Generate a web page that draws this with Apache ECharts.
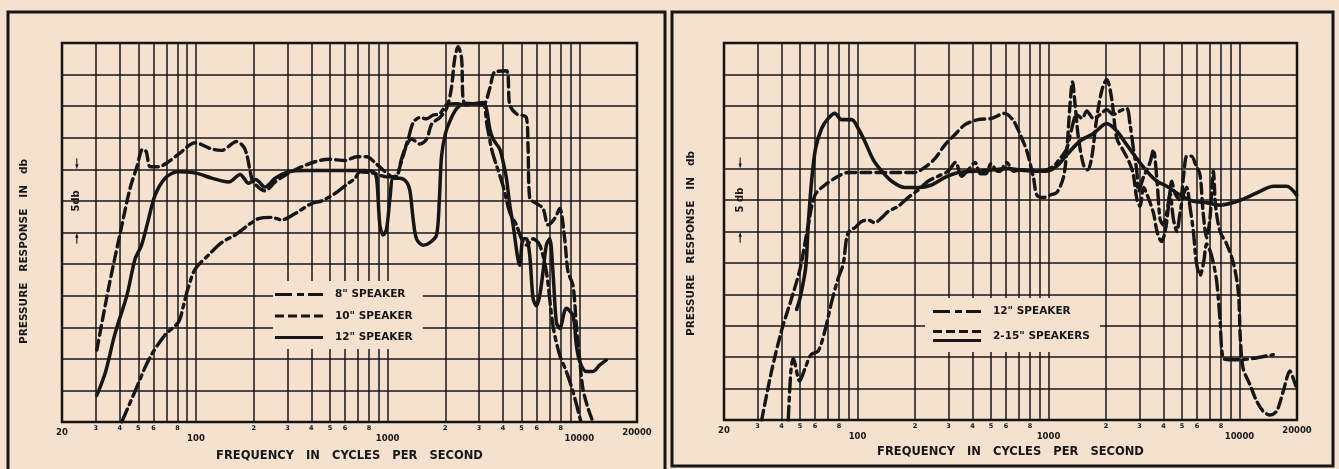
<!DOCTYPE html>
<html>
<head>
<meta charset="utf-8">
<script src="https://cdn.jsdelivr.net/npm/echarts@6/dist/echarts.min.js"></script>
<style>
html, body { margin: 0; padding: 0; background: #f5e1ce; }
#chart { width: 1339px; height: 469px; }
</style>
</head>
<body>
<div id="chart"></div>
<script>
// x axis: frequency (Hz), drawn on log10 scale
var gridFreqs = [20, 30, 40, 50, 60, 70, 80, 90, 100, 200, 300, 400, 500, 600, 700, 800, 900,
    1000, 2000, 3000, 4000, 5000, 6000, 7000, 8000, 9000, 10000, 20000];
var labelFreqs = [20, 30, 40, 50, 60, 80, 100, 200, 300, 400, 500, 600, 800,
    1000, 2000, 3000, 4000, 5000, 6000, 8000, 10000, 20000];

// left chart  [Hz, db]
var speaker8 = [[41,0],[48,2.4],[57,5.0],[69,6.9],[81,7.9],[86,9.2],[91,10.6],[99,12.1],[116,13.2],[136,14.2],
    [160,14.8],[188,15.6],[212,16.1],[248,16.2],[280,16.0],[329,16.5],[402,17.3],[453,17.5],[532,18.1],[600,18.7],
    [676,19.3],[717,19.8],[842,19.7],[988,19.4],[1113,19.5],[1180,20.8],[1280,22.4],[1360,23.7],[1473,24.1],[1596,24.0],
    [1729,24.3],[1872,24.4],[2028,25.1],[2287,25.2],[2578,25.1],[2907,25.2],[3149,25.2],[3300,23.5],[3500,21.5],[3700,20.3],
    [4000,18.7],[4336,16.6],[4697,15.6],[4990,14.5],[5296,14.0],[5737,14.5],[6215,14.0],[6732,11.9],[7293,7.6],[7900,5.3],
    [8558,4.0],[9270,2.4],[10200,0]];

var speaker10 = [[30.4,5.7],[35,10.6],[41.1,15.6],[45.3,18.5],[49.2,20.2],[52.7,21.6],[55,21.4],[57.7,20.2],[63.8,20.2],
    [71.9,20.6],[81.1,21.2],[99.1,22.1],[121,21.6],[136,21.5],[163,22.2],[177,21.8],[184,21.2],[192,19.8],[199,19.0],
    [229,18.3],[259,19.0],[304,19.7],[356,20.2],[418,20.6],[491,20.8],[600,20.7],[689,21.0],[777,21.0],[876,20.4],
    [1028,19.5],[1090,19.3],[1180,20.6],[1255,21.9],[1333,22.4],[1473,22.0],[1596,22.4],[1700,23.6],[1872,24.1],
    [2028,24.8],[2150,26.4],[2240,28.8],[2333,29.7],[2430,28.8],[2500,25.3],[2793,25.2],[3149,25.1],[3411,26.4],
    [3620,27.7],[4166,27.8],[4336,25.1],[4697,24.4],[5296,24.1],[5400,21.9],[5512,17.7],[5971,17.3],[6469,16.9],
    [6870,15.6],[7440,16.1],[7900,16.9],[8390,14.5],[8730,11.9],[9270,10.8],[9649,7.7],[10042,5.0],[10452,2.6],
    [11100,1.1],[11785,0]];

var speaker12 = [[30.4,2.1],[33.8,4.0],[37.2,6.6],[39.4,7.9],[43.6,10.0],[48.1,12.9],[52,14.0],[56,15.8],[61,17.9],
    [69,19.3],[80,19.8],[100,19.7],[121,19.3],[148,19.0],[170,19.6],[188,18.9],[205,19.2],[229,18.6],[259,19.3],
    [303,19.8],[370,19.9],[450,19.9],[600,19.9],[760,19.9],[842,19.8],[876,19.3],[912,15.5],[949,14.8],[988,15.3],
    [1028,17.7],[1070,19.3],[1159,19.3],[1255,19.0],[1307,18.3],[1360,16.0],[1415,14.5],[1533,14.0],[1661,14.2],
    [1799,14.8],[1860,17.5],[1910,21.0],[2000,22.8],[2111,23.8],[2290,24.8],[2530,25.2],[2793,25.2],[3149,25.3],
    [3277,24.8],[3411,23.2],[3550,22.4],[3846,21.6],[4002,20.6],[4166,19.3],[4336,17.2],[4513,15.6],[4889,12.4],
    [5088,14.5],[5296,14.5],[5512,13.2],[5737,9.8],[5971,9.2],[6215,10.0],[6469,11.9],[6732,14.0],[7007,14.5],
    [7293,11.8],[7591,7.9],[7900,7.4],[8558,9.0],[9270,8.4],[9649,6.1],[10042,4.8],[10879,4.0],[11785,4.0],
    [12766,4.5],[13830,4.9]];

// right chart  [Hz, db]
var single12 = [[43.4,0],[44.8,3.9],[46.1,4.9],[49.8,3.1],[53.1,4.1],[57.1,5.2],[62.3,5.5],[67.5,7.1],[73.2,9.4],
    [79.3,11.3],[84.2,12.4],[87.7,14.5],[91.3,15.1],[96.9,15.3],[105,15.8],[114,15.9],[123,15.7],[134,16.1],[145,16.6],
    [163,17.0],[184,17.7],[208,18.3],[234,19.0],[264,19.4],[298,19.8],[326,20.5],[351,19.4],[380,19.9],[412,20.5],
    [440,19.6],[470,19.6],[500,20.4],[540,19.8],[558,19.8],[605,20.5],[656,19.8],[711,19.9],[800,19.9],[900,19.8],
    [979,19.9],[1062,20.2],[1150,20.8],[1246,21.6],[1324,23.2],[1405,24.3],[1500,24.0],[1586,24.6],[1719,24.0],
    [1863,24.3],[2018,24.7],[2187,24.3],[2370,24.6],[2568,24.8],[2674,23.5],[2783,21.6],[2900,19.8],[2960,18.2],
    [3140,19.3],[3400,20.5],[3541,21.5],[3700,19.0],[3838,16.0],[4000,15.5],[4159,16.5],[4330,18.0],[4507,16.0],
    [4700,15.0],[4883,16.5],[5100,18.0],[5292,18.5],[5500,17.0],[5734,15.0],[5950,12.5],[6214,11.5],[6480,12.5],
    [6734,14.0],[7000,13.5],[7297,12.5],[7600,11.0],[7907,8.0],[8223,4.9],[8907,4.8],[10062,4.8],[11816,4.9],
    [13874,5.1],[15034,5.2]];

var pairDashed = [[31.5,0],[35.5,3.9],[40,7.1],[45.2,9.7],[50,12.0],[55.2,15.5],[59.9,17.9],[67.5,18.7],[79.3,19.4],
    [89.4,19.7],[109,19.7],[134,19.7],[163,19.7],[200,19.7],[225,20.1],[254,20.8],[287,21.9],[323,22.7],[365,23.5],
    [428,23.9],[503,24.0],[590,24.4],[656,23.8],[711,22.7],[770,21.4],[834,19.3],[869,17.9],[940,17.7],[1020,17.9],
    [1105,18.1],[1197,19.3],[1246,21.4],[1296,25.1],[1335,26.9],[1380,25.0],[1436,22.4],[1525,20.3],[1600,19.9],
    [1680,20.8],[1780,23.8],[1900,26.2],[2018,27.1],[2140,25.6],[2277,22.4],[2450,21.5],[2650,20.5],[2783,19.5],
    [2900,17.6],[3016,17.0],[3150,18.5],[3268,18.0],[3541,16.5],[3700,15.0],[3900,14.2],[4080,15.0],[4250,17.0],
    [4420,19.0],[4600,18.0],[4883,17.5],[5100,19.5],[5300,21.0],[5600,21.0],[5900,20.3],[6214,19.5],[6450,16.5],
    [6734,14.5],[7000,16.0],[7297,19.8],[7500,17.0],[7907,15.0],[8569,14.0],[9286,12.5],[9860,10.2],[10100,6.5],
    [10450,4.1],[11350,2.8],[12300,1.5],[13300,0.7],[14440,0.4],[15650,0.7],[16950,2.3],[18380,3.9],[19131,3.3],
    [19920,2.5]];

var pairSolid = [[48,8.8],[50,9.7],[53.5,12.1],[55.2,15.5],[57.5,19.0],[60.3,21.6],[64.9,23.2],[70.3,24.0],[76.1,24.4],
    [82.5,23.9],[93.1,23.9],[100.9,23.2],[109,22.2],[121,20.7],[134,19.8],[151,19.0],[177,18.5],[208,18.5],[244,18.7],
    [287,19.3],[337,19.7],[411,19.8],[503,19.9],[615,20.0],[711,19.9],[834,19.8],[979,19.8],[1105,20.2],[1246,21.1],
    [1464,22.2],[1719,22.8],[2018,23.6],[2277,23.0],[2568,21.9],[2900,20.8],[3268,19.8],[3690,19.0],[4159,18.6],
    [4883,17.9],[5734,17.4],[6734,17.3],[7907,17.1],[9286,17.3],[10904,17.7],[12805,18.2],[15034,18.6],[17654,18.6],
    [19920,17.9]];

var INK = '#161616';
var PAPER = '#f5e1ce';
var FONT = 'DejaVu Sans';

function toLog(points) {
    return points.map(function (p) { return [Math.log10(p[0]), p[1]]; });
}
function logList(list) {
    return list.map(function (f) { return Math.log10(f); });
}

function freqLabel(v) {
    var f = Math.round(Math.pow(10, v));
    if (f === 20 || f === 20000) return '{e|' + f + '}';
    if (f === 100 || f === 1000 || f === 10000) return '{d|' + f + '}';
    return '{s|' + String(f).charAt(0) + '}';
}

function makeXAxis(gridIndex, nameGap) {
    return {
        type: 'value',
        gridIndex: gridIndex,
        min: Math.log10(20),
        max: Math.log10(20000),
        name: 'FREQUENCY   IN   CYCLES   PER   SECOND',
        nameLocation: 'middle',
        nameGap: nameGap,
        nameTextStyle: { color: INK, fontFamily: FONT, fontWeight: 'bold', fontSize: 11.5 },
        axisLine: { show: false },
        axisTick: { show: false, customValues: logList(gridFreqs) },
        splitLine: { show: true, lineStyle: { color: INK, width: 1.5 } },
        axisLabel: {
            customValues: logList(labelFreqs),
            margin: 3,
            color: INK,
            formatter: freqLabel,
            rich: {
                s: { fontSize: 6.5, fontWeight: 'bold', fontFamily: FONT, color: INK },
                e: { fontSize: 8.5, fontWeight: 'bold', fontFamily: FONT, color: INK, padding: [3, 0, 0, 0] },
                d: { fontSize: 8.5, fontWeight: 'bold', fontFamily: FONT, color: INK, padding: [9, 0, 0, 0] }
            }
        }
    };
}

function makeYAxis(gridIndex, nameGap, shift) {
    return {
        type: 'value',
        gridIndex: gridIndex,
        min: 0,
        max: 30,
        interval: 2.5,
        name: 'PRESSURE   RESPONSE   IN   db',
        nameLocation: 'middle',
        nameRotate: 90,
        nameGap: nameGap,
        nameTextStyle: { color: INK, fontFamily: FONT, fontWeight: 'bold', fontSize: 10.5, padding: [0, shift, 0, 0] },
        axisLine: { show: false },
        axisTick: { show: false },
        axisLabel: { show: false },
        splitLine: { show: true, lineStyle: { color: INK, width: 1.5 } }
    };
}

// 5 db scale marker: two arrows and a label
var arrowDown = 'path://M2,0h2v6h2l-3,5l-3,-5h2z';
function dbMarker(freq, text) {
    var x = Math.log10(freq);
    return {
        silent: true,
        symbolKeepAspect: true,
        itemStyle: { color: INK },
        label: { show: false },
        data: [
            { coord: [x, 20.45], symbol: arrowDown, symbolSize: [6, 11] },
            { coord: [x, 14.55], symbol: arrowDown, symbolSize: [6, 11], symbolRotate: 180 },
            { coord: [x, 17.5], symbol: 'circle', symbolSize: 0,
              label: { show: true, formatter: text, rotate: 90, color: INK, fontFamily: FONT,
                       fontWeight: 'bold', fontSize: 10 } }
        ]
    };
}

function curve(name, points, xi, dash, width, marker) {
    var s = {
        name: name,
        type: 'line',
        xAxisIndex: xi,
        yAxisIndex: xi,
        data: toLog(points),
        symbol: 'none',
        showSymbol: false,
        smooth: 0.3,
        silent: true,
        z: 3,
        lineStyle: { color: INK, width: width, type: dash, cap: 'round' },
        itemStyle: { color: INK }
    };
    if (marker) s.markPoint = marker;
    return s;
}

var DASH = [10, 5];
var DASHDOT = [14, 5, 4, 5];

var iconDashDot = 'path://M0,0h17v3h-17z M22,0h7v3h-7z M33,0h15v3h-15z';
var iconDashed = 'path://M0,0h9v3h-9z M13,0h9v3h-9z M26,0h9v3h-9z M39,0h9v3h-9z';
var iconSolid = 'path://M0,0h48v3h-48z';
var iconPair = 'path://M0,0h9v3h-9z M13,0h9v3h-9z M26,0h9v3h-9z M39,0h9v3h-9z M0,9h48v3h-48z';

var legendText = { color: INK, fontFamily: FONT, fontWeight: 'bold', fontSize: 10.5, padding: [0, 0, 0, 7] };

var option = {
    backgroundColor: PAPER,
    animation: false,
    graphic: [
        { type: 'rect', shape: { x: 8, y: 12, width: 657, height: 470 },
          style: { fill: 'none', stroke: INK, lineWidth: 3 }, silent: true },
        { type: 'rect', shape: { x: 672, y: 12, width: 661, height: 454 },
          style: { fill: 'none', stroke: INK, lineWidth: 3 }, silent: true }
    ],
    grid: [
        { left: 62, top: 43, width: 575, height: 379, show: true, borderColor: INK, borderWidth: 2.5 },
        { left: 724, top: 43, width: 573, height: 377, show: true, borderColor: INK, borderWidth: 2.5 }
    ],
    legend: [
        {
            left: 273, top: 281,
            orient: 'vertical',
            selectedMode: false,
            itemWidth: 48, itemHeight: 12, itemGap: 10.5,
            padding: [8, 10, 6, 2],
            backgroundColor: PAPER,
            textStyle: legendText,
            data: [
                { name: '8" SPEAKER', icon: iconDashDot },
                { name: '10" SPEAKER', icon: iconDashed },
                { name: '12" SPEAKER', icon: iconSolid }
            ]
        },
        {
            left: 925, top: 298,
            orient: 'vertical',
            selectedMode: false,
            itemWidth: 48, itemHeight: 12, itemGap: 13,
            padding: [8, 10, 10, 8],
            backgroundColor: PAPER,
            textStyle: legendText,
            data: [
                { name: '12" SPEAKER', icon: iconDashDot },
                { name: '2-15" SPEAKERS', icon: iconPair }
            ]
        }
    ],
    xAxis: [makeXAxis(0, 28), makeXAxis(1, 25)],
    yAxis: [makeYAxis(0, 32, 38), makeYAxis(1, 27, 24)],
    series: [
        curve('8" SPEAKER', speaker8, 0, DASHDOT, 3.4),
        curve('10" SPEAKER', speaker10, 0, DASH, 3.4),
        curve('12" SPEAKER', speaker12, 0, 'solid', 3.5, dbMarker(23.9, '5db')),
        curve('12" SPEAKER', single12, 1, DASHDOT, 3.4),
        curve('2-15" SPEAKERS', pairDashed, 1, DASH, 3.4),
        curve('2-15" SPEAKERS (solid)', pairSolid, 1, 'solid', 3.6, dbMarker(24.3, '5 db'))
    ]
};

var chart = echarts.init(document.getElementById('chart'));
chart.setOption(option);
window.addEventListener('resize', function () { chart.resize(); });
</script>
</body>
</html>
